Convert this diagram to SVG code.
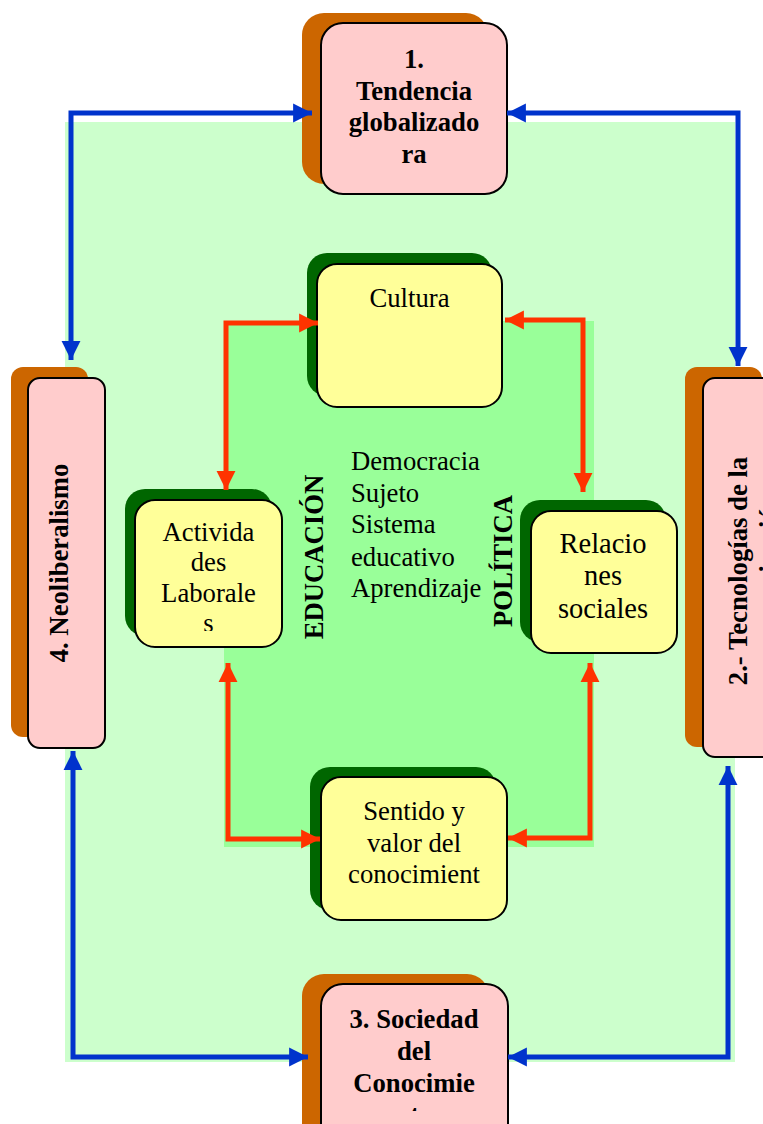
<svg xmlns="http://www.w3.org/2000/svg" width="763" height="1124" viewBox="0 0 763 1124">
<style>
text{font-family:"Liberation Serif","Times New Roman",serif;fill:#000}
.b{font-weight:bold;font-size:26.7px;text-anchor:middle}
.r{font-size:26.7px;text-anchor:middle}
.l{font-size:26.7px}
.pink{fill:#FFCCCC;stroke:#000;stroke-width:2}
.org{fill:#CC6600}
.yel{fill:#FFFF99;stroke:#000;stroke-width:2}
.dg{fill:#006600}
.blue{fill:none;stroke:#0033CC;stroke-width:5;marker-start:url(#ab);marker-end:url(#ab)}
.red{fill:none;stroke:#FF3300;stroke-width:5;marker-start:url(#ar);marker-end:url(#ar)}
</style>
<defs>
<marker id="ab" markerUnits="userSpaceOnUse" markerWidth="20" markerHeight="20" refX="17" refY="8.5" orient="auto-start-reverse" viewBox="0 0 18 17"><path d="M0,0 L17,8.5 L0,17 Z" fill="#0033CC"/></marker>
<marker id="ar" markerUnits="userSpaceOnUse" markerWidth="20" markerHeight="20" refX="17" refY="8.5" orient="auto-start-reverse" viewBox="0 0 18 17"><path d="M0,0 L17,8.5 L0,17 Z" fill="#FF3300"/></marker>
<clipPath id="cb"><rect x="321" y="984" width="187" height="127"/></clipPath>
<clipPath id="ca"><rect x="135" y="500" width="147" height="131"/></clipPath>
</defs>
<g id="background">
<rect x="65" y="122" width="670" height="940" fill="#CCFFCC"/>
<rect x="224" y="321" width="370" height="526" fill="#99FF99"/>
</g>
<g id="node-tendencia">
<rect class="org" x="302" y="13" width="186" height="171" rx="22"/>
<rect class="pink" x="321" y="23" width="186" height="171" rx="22"/>
<text class="b" x="414" y="68">1.</text>
<text class="b" x="414" y="100">Tendencia</text>
<text class="b" x="414" y="131">globalizado</text>
<text class="b" x="414" y="163">ra</text>
</g>
<g id="node-neoliberalismo">
<rect class="org" x="11" y="367" width="77" height="370" rx="12"/>
<rect class="pink" x="28" y="378" width="77" height="370" rx="12"/>
<text class="b" transform="translate(68,563) rotate(-90)">4. Neoliberalismo</text>
</g>
<g id="node-tecnologias">
<rect class="org" x="685" y="367" width="77" height="380" rx="12"/>
<rect class="pink" x="703" y="378" width="77" height="379" rx="12"/>
<text class="b" transform="translate(747,571) rotate(-90)">2.- Tecnologías de la</text>
<text class="b" transform="translate(778,571) rotate(-90)">comunicación</text>
</g>
<g id="node-sociedad">
<rect class="org" x="302" y="974" width="187" height="171" rx="22"/>
<rect class="pink" x="321" y="984" width="187" height="171" rx="22"/>
<g clip-path="url(#cb)">
<text class="b" x="414" y="1028">3. Sociedad</text>
<text class="b" x="414" y="1060">del</text>
<text class="b" x="414" y="1092">Conocimie</text>
<text class="b" x="414" y="1124">nto</text>
</g>
</g>
<g id="node-cultura">
<rect class="dg" x="307" y="253" width="185" height="143" rx="20"/>
<rect class="yel" x="317" y="264" width="185" height="143" rx="20"/>
<text class="r" x="409.5" y="307">Cultura</text>
</g>
<g id="node-actividades">
<rect class="dg" x="125" y="489" width="147" height="147" rx="20"/>
<rect class="yel" x="135" y="500" width="147" height="147" rx="20"/>
<g clip-path="url(#ca)">
<text class="r" x="208.5" y="541">Activida</text>
<text class="r" x="208.5" y="571">des</text>
<text class="r" x="208.5" y="602">Laborale</text>
<text class="r" x="208.5" y="632">s</text>
</g>
</g>
<g id="node-relaciones">
<rect class="dg" x="520" y="500" width="146" height="142" rx="20"/>
<rect class="yel" x="531" y="511" width="146" height="142" rx="20"/>
<text class="r" x="603" y="553" style="font-size:28.5px">Relacio</text>
<text class="r" x="603" y="585" style="font-size:28.5px">nes</text>
<text class="r" x="603" y="618" style="font-size:28.5px">sociales</text>
</g>
<g id="node-sentido">
<rect class="dg" x="310" y="767" width="186" height="143" rx="20"/>
<rect class="yel" x="321" y="777" width="186" height="143" rx="20"/>
<text class="r" x="414" y="820">Sentido y</text>
<text class="r" x="414" y="852">valor del</text>
<text class="r" x="414" y="883">conocimient</text>
</g>
<g id="center-labels">
<text class="b" transform="translate(323,557) rotate(-90)">EDUCACIÓN</text>
<text class="b" transform="translate(512,561) rotate(-90)">POLÍTICA</text>
<text class="l" x="351" y="470">Democracia</text>
<text class="l" x="351" y="502">Sujeto</text>
<text class="l" x="351" y="533">Sistema</text>
<text class="l" x="351" y="566">educativo</text>
<text class="l" x="351" y="597">Aprendizaje</text>
</g>
<g id="connectors">
<path class="blue" d="M71,360 V113 H312"/>
<path class="blue" d="M507,113 H738 V366"/>
<path class="blue" d="M73,751 V1057 H308"/>
<path class="blue" d="M508,1057 H728 V766"/>
<path class="red" d="M226,490 V323 H318"/>
<path class="red" d="M505,320 H583 V492"/>
<path class="red" d="M228,663 V839 H320"/>
<path class="red" d="M590,663 V838 H508"/>
</g>
</svg>
